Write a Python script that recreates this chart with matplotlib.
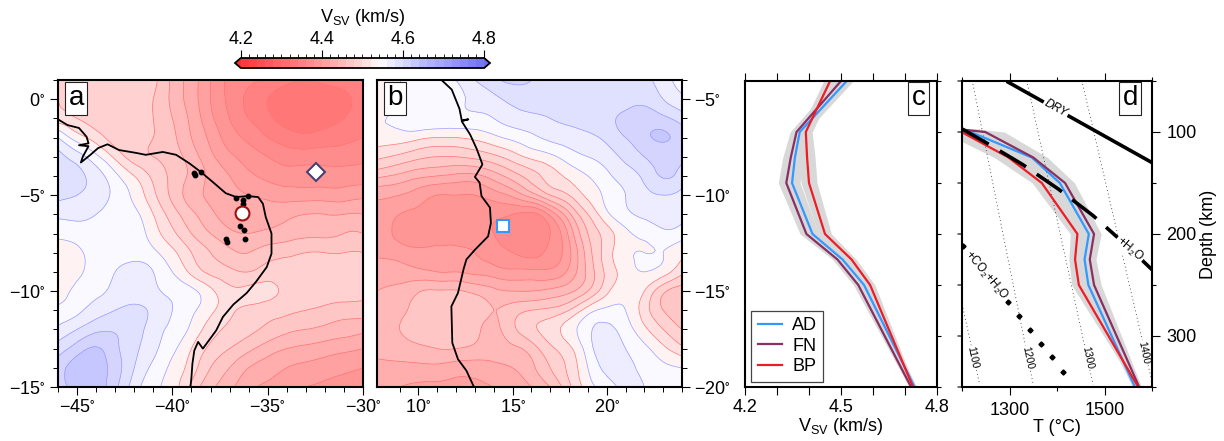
# plot.py - mapas de Vsv e perfis em profundidade
import numpy as np
import matplotlib
matplotlib.use("Agg")
import matplotlib.pyplot as plt
import matplotlib.tri as mtri
from matplotlib.colors import LinearSegmentedColormap, BoundaryNorm
from matplotlib.cm import ScalarMappable

plt.rcParams["font.family"] = ["Liberation Sans", "DejaVu Sans"]
plt.rcParams["mathtext.default"] = "regular"

# ===== DADOS =====
LON_A = [-46, -45, -44, -43, -42, -41, -40, -39, -38, -37, -36, -35, -34, -33, -32, -31, -30]
LAT_A = [1, 0, -1, -2, -3, -4, -5, -6, -7, -8, -9, -10, -11, -12, -13, -14, -15]
VS_A = [
    [4.49, 4.49, 4.49, 4.49, 4.49, 4.485, 4.455, 4.43, 4.40, 4.375, 4.365, 4.355, 4.345, 4.34, 4.345, 4.35, 4.355],
    [4.50, 4.49, 4.485, 4.485, 4.485, 4.48, 4.455, 4.43, 4.40, 4.375, 4.355, 4.34, 4.328, 4.325, 4.328, 4.335, 4.35],
    [4.51, 4.50, 4.49, 4.485, 4.485, 4.48, 4.46, 4.435, 4.405, 4.38, 4.36, 4.345, 4.33, 4.325, 4.33, 4.34, 4.355],
    [4.56, 4.53, 4.51, 4.49, 4.485, 4.48, 4.465, 4.44, 4.415, 4.39, 4.375, 4.36, 4.35, 4.345, 4.35, 4.355, 4.36],
    [4.585, 4.57, 4.545, 4.515, 4.49, 4.48, 4.47, 4.45, 4.425, 4.405, 4.39, 4.38, 4.37, 4.37, 4.37, 4.37, 4.375],
    [4.59, 4.585, 4.57, 4.545, 4.52, 4.495, 4.475, 4.455, 4.435, 4.42, 4.405, 4.395, 4.39, 4.39, 4.39, 4.39, 4.39],
    [4.585, 4.58, 4.57, 4.555, 4.535, 4.505, 4.475, 4.45, 4.435, 4.425, 4.42, 4.415, 4.41, 4.41, 4.41, 4.41, 4.415],
    [4.565, 4.565, 4.56, 4.555, 4.545, 4.52, 4.49, 4.465, 4.445, 4.43, 4.425, 4.43, 4.435, 4.44, 4.44, 4.44, 4.44],
    [4.545, 4.55, 4.555, 4.555, 4.55, 4.53, 4.505, 4.48, 4.46, 4.445, 4.44, 4.445, 4.45, 4.455, 4.455, 4.46, 4.46],
    [4.53, 4.535, 4.55, 4.555, 4.555, 4.545, 4.525, 4.50, 4.48, 4.465, 4.46, 4.47, 4.475, 4.48, 4.48, 4.48, 4.48],
    [4.525, 4.535, 4.55, 4.56, 4.565, 4.56, 4.54, 4.515, 4.495, 4.485, 4.48, 4.49, 4.49, 4.49, 4.49, 4.49, 4.485],
    [4.53, 4.545, 4.555, 4.565, 4.57, 4.565, 4.555, 4.545, 4.525, 4.505, 4.505, 4.505, 4.495, 4.49, 4.49, 4.49, 4.485],
    [4.545, 4.555, 4.57, 4.58, 4.585, 4.575, 4.56, 4.545, 4.525, 4.505, 4.495, 4.49, 4.485, 4.48, 4.475, 4.47, 4.47],
    [4.565, 4.58, 4.595, 4.598, 4.59, 4.57, 4.555, 4.535, 4.51, 4.495, 4.485, 4.475, 4.465, 4.46, 4.455, 4.45, 4.445],
    [4.59, 4.61, 4.622, 4.605, 4.585, 4.565, 4.545, 4.52, 4.495, 4.48, 4.465, 4.45, 4.44, 4.435, 4.43, 4.425, 4.42],
    [4.61, 4.63, 4.63, 4.61, 4.58, 4.555, 4.535, 4.51, 4.48, 4.46, 4.44, 4.43, 4.42, 4.415, 4.41, 4.405, 4.40],
    [4.615, 4.625, 4.63, 4.605, 4.57, 4.545, 4.53, 4.495, 4.465, 4.445, 4.425, 4.415, 4.405, 4.40, 4.395, 4.39, 4.385],
]

LON_B = [7.8, 9, 10, 11, 12, 13, 14, 15, 16, 17, 18, 19, 20, 21, 22, 23, 24]
LAT_B = [-4, -5, -6, -7, -8, -9, -10, -11, -12, -13, -14, -15, -16, -17, -18, -19, -20]
VS_B = [
    [4.53, 4.54, 4.545, 4.55, 4.56, 4.58, 4.595, 4.605, 4.60, 4.595, 4.59, 4.59, 4.59, 4.59, 4.585, 4.57, 4.55],
    [4.535, 4.54, 4.545, 4.55, 4.555, 4.565, 4.575, 4.585, 4.59, 4.59, 4.59, 4.59, 4.59, 4.592, 4.595, 4.58, 4.565],
    [4.54, 4.545, 4.555, 4.555, 4.555, 4.555, 4.56, 4.57, 4.575, 4.58, 4.585, 4.59, 4.595, 4.605, 4.61, 4.605, 4.59],
    [4.53, 4.53, 4.525, 4.52, 4.52, 4.525, 4.535, 4.545, 4.555, 4.565, 4.57, 4.575, 4.585, 4.60, 4.615, 4.622, 4.61],
    [4.505, 4.495, 4.485, 4.48, 4.48, 4.485, 4.495, 4.51, 4.525, 4.535, 4.55, 4.56, 4.57, 4.585, 4.60, 4.61, 4.605],
    [4.465, 4.455, 4.445, 4.44, 4.435, 4.435, 4.45, 4.47, 4.49, 4.51, 4.525, 4.54, 4.555, 4.57, 4.585, 4.602, 4.59],
    [4.425, 4.42, 4.41, 4.40, 4.40, 4.40, 4.41, 4.425, 4.45, 4.48, 4.50, 4.525, 4.545, 4.56, 4.575, 4.58, 4.575],
    [4.415, 4.40, 4.395, 4.39, 4.39, 4.39, 4.385, 4.38, 4.375, 4.405, 4.455, 4.50, 4.535, 4.555, 4.565, 4.57, 4.565],
    [4.41, 4.395, 4.39, 4.39, 4.39, 4.39, 4.38, 4.37, 4.37, 4.38, 4.425, 4.48, 4.51, 4.535, 4.545, 4.555, 4.55],
    [4.415, 4.41, 4.405, 4.405, 4.405, 4.40, 4.39, 4.38, 4.375, 4.385, 4.415, 4.47, 4.51, 4.535, 4.54, 4.54, 4.525],
    [4.435, 4.43, 4.425, 4.42, 4.42, 4.415, 4.41, 4.405, 4.405, 4.405, 4.425, 4.465, 4.505, 4.53, 4.54, 4.53, 4.505],
    [4.44, 4.445, 4.458, 4.462, 4.462, 4.455, 4.445, 4.44, 4.44, 4.445, 4.455, 4.48, 4.515, 4.535, 4.52, 4.485, 4.47],
    [4.445, 4.455, 4.468, 4.472, 4.472, 4.47, 4.46, 4.47, 4.48, 4.485, 4.50, 4.53, 4.545, 4.54, 4.51, 4.48, 4.465],
    [4.45, 4.46, 4.47, 4.472, 4.47, 4.465, 4.455, 4.475, 4.495, 4.51, 4.53, 4.555, 4.565, 4.55, 4.525, 4.50, 4.48],
    [4.445, 4.45, 4.455, 4.46, 4.46, 4.455, 4.45, 4.455, 4.47, 4.495, 4.515, 4.55, 4.57, 4.56, 4.545, 4.525, 4.505],
    [4.435, 4.435, 4.435, 4.435, 4.43, 4.43, 4.435, 4.44, 4.455, 4.48, 4.505, 4.54, 4.565, 4.565, 4.555, 4.545, 4.54],
    [4.425, 4.42, 4.415, 4.415, 4.415, 4.415, 4.42, 4.425, 4.44, 4.46, 4.495, 4.53, 4.55, 4.565, 4.56, 4.555, 4.55],
]

COAST_A_LON = [-46, -45.5, -44.9, -44.5, -44.4, -44.9, -44.4, -44.7, -44.8, -44.3, -43.9, -43.4, -42.8, -41.9, -41.4, -40.5, -39.8, -39.1, -38.5, -37.9, -37.2, -36.65, -36.05, -35.5, -35.25, -35.1, -34.8, -34.8, -35.05, -35.6, -36.1, -36.8, -37.35, -37.7, -38.4, -38.65, -38.85, -38.95, -39.0, -39.05]
COAST_A_LAT = [-1.05, -1.35, -1.5, -1.96, -2.3, -2.4, -2.45, -3.0, -3.3, -2.9, -2.55, -2.35, -2.65, -2.8, -2.9, -2.75, -2.9, -3.35, -3.8, -4.3, -4.9, -5.1, -5.05, -5.1, -5.45, -6.15, -7.0, -8.05, -8.75, -9.5, -10.1, -10.7, -11.35, -12.05, -13.0, -12.65, -13.1, -13.8, -14.5, -15]
COAST_B_LON = [11.27, 11.77, 12.18, 12.3, 12.65, 12.3, 12.75, 13.1, 13.4, 13.0, 13.25, 13.35, 13.8, 13.85, 13.7, 13.35, 13.0, 12.55, 12.4, 12.1, 11.75, 11.8, 12.1, 12.55, 12.95]
COAST_B_LAT = [-4.04, -4.5, -5.5, -6.1, -6.05, -6.15, -6.85, -7.6, -8.4, -9.05, -9.35, -10.05, -10.65, -11.45, -12.15, -12.5, -12.85, -13.35, -13.85, -15.1, -15.8, -17.7, -18.55, -19.15, -20]

VOLC_LON = [-38.85, -38.8, -38.5, -36.65, -36.3, -36.3, -36.05, -36.45, -36.25, -36.2, -37.2, -37.15]
VOLC_LAT = [-3.85, -3.95, -3.8, -5.15, -5.25, -5.45, -5.05, -6.6, -6.8, -7.3, -7.3, -7.45]
AD_LOC = (-32.45, -3.8)
FN_LOC = (-36.35, -5.95)
BP_LOC = (14.48, -11.6)

DEPTH_C = [50, 100, 125, 150, 200, 225, 250, 350]
VS_AD = [4.518, 4.371, 4.356, 4.347, 4.411, 4.505, 4.572, 4.730]
VS_FN = [4.500, 4.361, 4.343, 4.329, 4.392, 4.489, 4.554, 4.719]
VS_BP = [4.466, 4.390, 4.394, 4.400, 4.450, 4.533, 4.591, 4.725]
VS_ERR = [0.02, 0.02, 0.025, 0.025, 0.02, 0.015, 0.015, 0.006]

DEPTH_D = [97, 100, 125, 150, 200, 225, 250, 350]
T_AD = [1200, 1218, 1347, 1406, 1467, 1458, 1466, 1564]
T_FN = [1187, 1249, 1350, 1417, 1478, 1469, 1478, 1573]
T_BP = [1178, 1199, 1298, 1368, 1443, 1438, 1446, 1571]
T_ERR = [40, 40, 30, 20, 15, 13, 15, 5]

DRY_T = [1294, 1600]
DRY_Z = [50.3, 130]
H2O_T = [1200, 1249, 1328, 1403, 1476, 1553, 1600]
H2O_Z = [97, 110, 132, 156, 182, 214, 235]
CO2_T = [1202, 1296, 1320, 1343, 1366, 1390, 1413]
CO2_Z = [211.4, 266.3, 280, 293.8, 307.5, 321, 335]

ADIABAT_T = [[1202, 1237], [1223, 1350], [1338, 1476], [1454, 1599]]
ADIABAT_Z = [[272.5, 347], [53, 347.7], [53, 347.7], [53, 343]]
ADIABAT_LAB = ["1100", "1200", "1300", "1400"]
ADIABAT_LAB_T = [1223, 1338, 1464, 1583]
ADIABAT_LAB_Z = [321, 321, 321, 316]

COLS = {"AD": "#3399ff", "FN": "#8a2f62", "BP": "#ee1c25"}
LEVELS = np.round(np.arange(4.2, 4.8001, 0.02), 2)
# ancoras da paleta: valor -> cor
CMAP_V = [4.2, 4.4, 4.5, 4.54, 4.64, 4.8]
CMAP_C = ["#ff3030", "#ff9a9a", "#ffd8d8", "#ffffff", "#bcbcff", "#6c6cf2"]

W, H = 1224, 441
LW_FRAME = 1.5
FS = 13


def px_axes(fig, x0, x1, y0, y1):
    return fig.add_axes([x0 / W, 1 - y1 / H, (x1 - x0) / W, (y1 - y0) / H])


def panel_tag(ax, txt, x, y):
    ax.text(x, y, txt, transform=ax.transAxes, fontsize=20, ha="center", va="center", zorder=20,
            bbox=dict(facecolor="white", edgecolor="#222222", linewidth=0.8, boxstyle="square,pad=0.12"))


def frame(ax):
    for s in ax.spines.values():
        s.set_linewidth(LW_FRAME)
        s.set_zorder(15)


def deg(txt):
    return txt.replace("-", "\u2212") + "$^{\\circ}$"


def draw_map(ax, lon, lat, vs, cmap, norm):
    xx, yy = np.meshgrid(lon, lat)
    tri = mtri.Triangulation(xx.ravel(), yy.ravel())
    tri2, z2 = mtri.UniformTriRefiner(tri).refine_field(np.array(vs).ravel(), subdiv=3)
    ax.tricontourf(tri2, z2, levels=LEVELS, cmap=cmap, norm=norm, extend="both")
    cols = ["#ff6e6e" if v < 4.54 else "#9a9aff" for v in LEVELS]
    ax.tricontour(tri2, z2, levels=LEVELS, colors=cols, linewidths=0.5)


def main():
    fig = plt.figure(figsize=(W / 100, H / 100), dpi=100)
    pos = [round((v - 4.2) / 0.6, 6) for v in CMAP_V]
    cmap = LinearSegmentedColormap.from_list("rwb", list(zip(pos, CMAP_C)))
    norm = BoundaryNorm(LEVELS, 256, extend="both")

    # (a) mapa
    ax = px_axes(fig, 58, 363, 80, 387)
    draw_map(ax, LON_A, LAT_A, VS_A, cmap, norm)
    ax.plot(COAST_A_LON, COAST_A_LAT, color="k", lw=1.3)
    ax.plot(VOLC_LON, VOLC_LAT, "o", color="k", ms=3.2)
    ax.plot(*FN_LOC, "o", mfc="white", mec="#a01010", mew=1.5, ms=10)
    ax.plot(*AD_LOC, "D", mfc="white", mec="#4a4070", mew=1.5, ms=9)
    ax.set_xlim(-46, -30)
    ax.set_ylim(-15, 1)
    ax.set_xticks([-45, -40, -35, -30], [deg(s) for s in ["-45", "-40", "-35", "-30"]])
    ax.set_yticks([0, -5, -10, -15], [deg(s) for s in ["0", "-5", "-10", "-15"]])
    ax.set_xticks(LON_A, minor=True)
    ax.set_yticks(LAT_A, minor=True)
    ax.tick_params(which="major", length=6, width=0.8, labelsize=FS, pad=3)
    ax.tick_params(which="minor", length=3.5, width=0.7)
    panel_tag(ax, "a", 0.06, 0.94)
    frame(ax)

    # (b) mapa
    ax = px_axes(fig, 377, 682, 80, 387)
    draw_map(ax, LON_B, LAT_B, VS_B, cmap, norm)
    ax.plot(COAST_B_LON, COAST_B_LAT, color="k", lw=1.3)
    ax.plot(*BP_LOC, "s", mfc="white", mec="#3399ff", mew=1.5, ms=9)
    ax.set_xlim(7.8, 24)
    ax.set_ylim(-20, -4)
    ax.set_xticks([10, 15, 20], [deg(s) for s in ["10", "15", "20"]])
    ax.set_yticks([-5, -10, -15, -20], [deg(s) for s in ["-5", "-10", "-15", "-20"]])
    ax.set_xticks(LON_B[1:], minor=True)
    ax.set_yticks(LAT_B, minor=True)
    ax.yaxis.tick_right()
    ax.yaxis.set_ticks_position("right")
    ax.tick_params(which="major", length=6, width=0.8, labelsize=FS, pad=3)
    ax.tick_params(which="minor", length=3.5, width=0.7)
    panel_tag(ax, "b", 0.06, 0.94)
    frame(ax)

    # (c) perfis de Vsv
    ax = px_axes(fig, 745, 937, 81, 387)
    for vs in (VS_AD, VS_FN, VS_BP):
        ax.fill_betweenx(DEPTH_C, np.array(vs) - VS_ERR, np.array(vs) + VS_ERR, color="#d8d8d8", lw=0)
    for name, vs in [("AD", VS_AD), ("FN", VS_FN), ("BP", VS_BP)]:
        ax.plot(vs, DEPTH_C, color=COLS[name], lw=1.6, label=name)
    ax.set_xlim(4.2, 4.8)
    ax.set_ylim(350, 50)
    ax.set_xticks([4.2, 4.5, 4.8], ["4.2", "4.5", "4.8"])
    ax.set_xticks([4.3, 4.4, 4.6, 4.7], minor=True)
    ax.set_yticks([100, 150, 200, 250, 300, 350, 50], [""] * 7)
    ax.tick_params(which="both", top=True, bottom=True, left=False, right=False, length=5.5, width=0.8, labelsize=FS, pad=3)
    ax.tick_params(axis="y", which="both", right=True, length=3)
    ax.set_xlabel("V$_{SV}$ (km/s)", fontsize=FS, labelpad=0)
    leg = ax.legend(loc="lower left", fontsize=FS, frameon=True, fancybox=False, framealpha=1, edgecolor="#444444",
                    handlelength=1.35, borderpad=0.35, labelspacing=0.2, handletextpad=0.55, bbox_to_anchor=(0.005, 0.0), borderaxespad=0.3)
    leg.get_frame().set_linewidth(0.9)
    panel_tag(ax, "c", 0.905, 0.943)
    frame(ax)

    # (d) geoterma
    ax = px_axes(fig, 962, 1152, 81, 387)
    for tt in (T_AD, T_FN, T_BP):
        ax.fill_betweenx(DEPTH_D, np.array(tt) - T_ERR, np.array(tt) + T_ERR, color="#d8d8d8", lw=0)
    for tt_, zz_ in zip(ADIABAT_T, ADIABAT_Z):
        ax.plot(tt_, zz_, color="#222222", lw=0.6, ls=(0, (1, 3.5)))
    for name, tt in [("AD", T_AD), ("FN", T_FN), ("BP", T_BP)]:
        ax.plot(tt, DEPTH_D, color=COLS[name], lw=1.6)
    ax.plot(DRY_T, DRY_Z, color="k", lw=2.6, solid_capstyle="butt")
    ax.plot(H2O_T, H2O_Z, color="k", lw=2.6, ls=(0, (8.5, 3.6)))
    ax.plot(CO2_T, CO2_Z, "D", color="k", ms=2.6)
    tbox = dict(facecolor="white", edgecolor="none", pad=1.0)
    ax.text(1398, 76.5, "DRY", fontsize=8.5, rotation=-29, ha="center", va="center", style="italic", bbox=tbox, rotation_mode="anchor")
    ax.text(1553, 215, "+H$_2$O", fontsize=8.5, rotation=-40, ha="center", va="center", bbox=tbox, rotation_mode="anchor")
    ax.text(1250, 240, "+CO$_2$+H$_2$O", fontsize=8.5, rotation=-50, ha="center", va="center", rotation_mode="anchor")
    for lab, t0, z0 in zip(ADIABAT_LAB, ADIABAT_LAB_T, ADIABAT_LAB_Z):
        ax.text(t0, z0, lab, fontsize=7.5, rotation=-78, ha="center", va="center", bbox=dict(facecolor="white", edgecolor="none", pad=0.5), rotation_mode="anchor")
    ax.set_xlim(1200, 1600)
    ax.set_ylim(350, 50)
    ax.set_xticks([1300, 1500], ["1300", "1500"])
    ax.set_xticks([1200, 1400, 1600], minor=True)
    ax.set_yticks([100, 200, 300], ["100", "200", "300"])
    ax.set_yticks([50, 150, 250, 350], minor=True)
    ax.tick_params(which="major", top=True, bottom=True, left=False, right=True, labelleft=False, labelright=True, length=5.5, width=0.8, labelsize=FS, pad=5)
    ax.tick_params(which="minor", top=True, bottom=True, left=False, right=True, length=3, width=0.8)
    ax.yaxis.set_label_position("right")
    ax.set_xlabel("T (\u00b0C)", fontsize=FS, labelpad=0)
    ax.set_ylabel("Depth (km)", fontsize=FS, labelpad=2)
    panel_tag(ax, "d", 0.885, 0.943)
    frame(ax)
    # marcas curtas do lado esquerdo de (d)
    for z0 in DEPTH_C_TICKS:
        ax.annotate("", xy=(0, z0), xycoords=("axes fraction", "data"), xytext=(-3, 0), textcoords="offset points",
                    arrowprops=dict(arrowstyle="-", lw=0.8, shrinkA=0, shrinkB=0, color="k"), annotation_clip=False)

    # colorbar
    cax = px_axes(fig, 235, 490, 58, 68)
    cb = fig.colorbar(ScalarMappable(norm=norm, cmap=cmap), cax=cax, orientation="horizontal", extend="both",
                      extendfrac=0.024, drawedges=False, spacing="proportional", ticks=[4.2, 4.4, 4.6, 4.8])
    cax.xaxis.set_ticks_position("top")
    cax.set_xticklabels(["4.2", "4.4", "4.6", "4.8"])
    cax.set_xticks(LEVELS, minor=True)
    cax.tick_params(which="major", length=6, width=0.8, labelsize=FS, pad=1, top=True, bottom=False)
    cax.tick_params(which="minor", length=3, width=0.6, top=True, bottom=False)
    cb.outline.set_linewidth(1.3)
    fig.text(363 / W, 1 - 18 / H, "V$_{SV}$ (km/s)", fontsize=FS, ha="center", va="center")

    fig.savefig("out.png", dpi=100)
    plt.close(fig)


DEPTH_C_TICKS = [50, 100, 150, 200, 250, 300, 350]

if __name__ == "__main__":
    main()
